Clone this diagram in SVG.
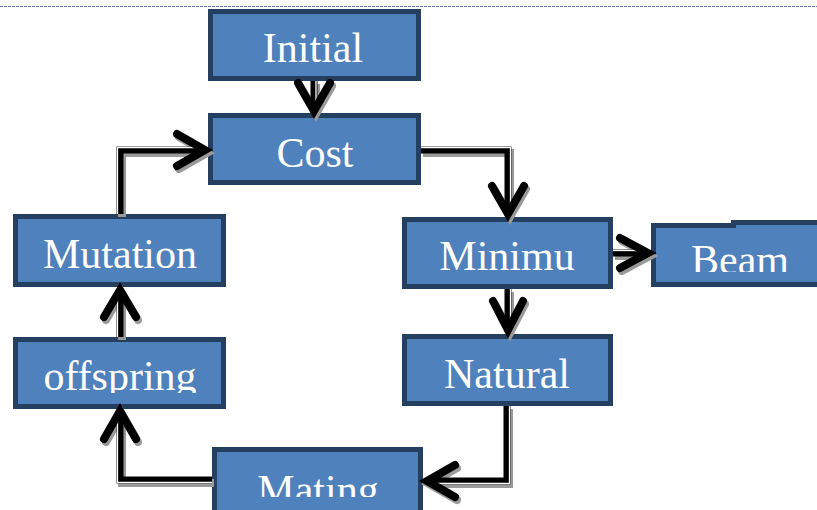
<svg xmlns="http://www.w3.org/2000/svg" width="817" height="510" viewBox="0 0 817 510">
<defs>
<style>
.box{fill:#4f81bd;stroke:#253f61;stroke-width:5}
.lbl{font-family:"Liberation Serif","Times New Roman",serif;font-size:42px;fill:#ffffff;text-anchor:middle}
.sh{fill:none;stroke:#9a9a9a;stroke-width:8;stroke-linecap:butt;stroke-linejoin:miter}
.bk{fill:none;stroke:#000;stroke-width:7;stroke-linejoin:miter}
.wh{fill:none;stroke:#fff;stroke-width:1.3;stroke-linejoin:miter}
.hd{fill:none;stroke:#000;stroke-width:8;stroke-linecap:round;stroke-linejoin:miter}
.hs{fill:none;stroke:#9a9a9a;stroke-width:8;stroke-linecap:round;stroke-linejoin:miter}
</style>
<clipPath id="clipOff"><rect x="0" y="330" width="240" height="63"/></clipPath>
<clipPath id="clipBeam"><rect x="650" y="215" width="167" height="57"/></clipPath>
<clipPath id="clipMat"><rect x="205" y="440" width="230" height="57"/></clipPath>
</defs>
<line x1="0" y1="6.5" x2="817" y2="6.5" stroke="#5f779e" stroke-width="1" stroke-dasharray="3,1"/>
<g id="initial"><rect class="box" x="210.5" y="11.5" width="208" height="67"/><text class="lbl" x="313" y="62">Initial</text></g>
<g id="cost"><rect class="box" x="210.5" y="115.5" width="208" height="67"/><text class="lbl" x="315" y="167">Cost</text></g>
<g id="minimu"><rect class="box" x="404.5" y="219.5" width="206" height="67"/><text class="lbl" x="507" y="270">Minimu</text></g>
<g id="beam"><path class="box" d="M653.5 284.5 V225.5 H733.5 V222.5 H822 V284.5 Z"/><text class="lbl" x="740" y="274" clip-path="url(#clipBeam)">Beam</text></g>
<g id="mutation"><rect class="box" x="15.5" y="216.5" width="208" height="68"/><text class="lbl" x="120" y="268">Mutation</text></g>
<g id="offspring"><rect class="box" x="15.5" y="339.5" width="208" height="67"/><text class="lbl" x="120" y="390" clip-path="url(#clipOff)">offspring</text></g>
<g id="natural"><rect class="box" x="404.5" y="336.5" width="206" height="67"/><text class="lbl" x="507" y="388">Natural</text></g>
<g id="mating"><rect class="box" x="214.5" y="449.5" width="206" height="70"/><text class="lbl" x="318" y="504" clip-path="url(#clipMat)">Mating</text></g>
<g id="connectors">
<g transform="translate(2,3)">
<path class="sh" d="M314 81 V110"/><path class="hs" d="M298 83 L314 111 L330 83"/>
<path class="sh" d="M421 150 H508 V214"/><path class="hs" d="M492 186 L508 214 L524 186"/>
<path class="sh" d="M613 253 H648"/><path class="hs" d="M620 238 L648 253 L620 268"/>
<path class="sh" d="M508 289 V331"/><path class="hs" d="M493 301 L508 330 L523 301"/>
<path class="sh" d="M507 406 V481 H427"/><path class="hs" d="M455 465 L427 481 L455 497"/>
<path class="sh" d="M212 480 H120 V412"/><path class="hs" d="M104 439 L120 411 L136 439"/>
<path class="sh" d="M120 337 V290"/><path class="hs" d="M104 317 L120 290 L136 317"/>
<path class="sh" d="M120 214 V150 H205"/><path class="hs" d="M177 134 L205 150 L177 166"/>
</g>
<path class="bk" d="M314 81 V110"/><path class="wh" d="M316 81 V108"/><path class="hd" d="M298 83 L314 111 L330 83"/>
<path class="bk" d="M421 150 H508 V212"/><path class="wh" d="M421 147.5 H510.5 V206"/><path class="hd" d="M492 186 L508 214 L524 186"/>
<path class="bk" d="M613 253 H646"/><path class="wh" d="M613 250.5 H640"/><path class="hd" d="M620 238 L648 253 L620 268"/>
<path class="bk" d="M508 289 V329"/><path class="wh" d="M510.5 289 V322"/><path class="hd" d="M493 301 L508 330 L523 301"/>
<path class="bk" d="M507 406 V481 H429"/><path class="wh" d="M509.5 406 V483.5 H436"/><path class="hd" d="M455 465 L427 481 L455 497"/>
<path class="bk" d="M212 480 H120 V414"/><path class="wh" d="M212 482.5 H117.5 V420"/><path class="hd" d="M104 439 L120 411 L136 439"/>
<path class="bk" d="M120 337 V292"/><path class="wh" d="M117.5 337 V298"/><path class="hd" d="M104 317 L120 290 L136 317"/>
<path class="bk" d="M120 214 V150 H203"/><path class="wh" d="M117.5 214 V147.5 H197"/><path class="hd" d="M177 134 L205 150 L177 166"/>
</g>
</svg>
